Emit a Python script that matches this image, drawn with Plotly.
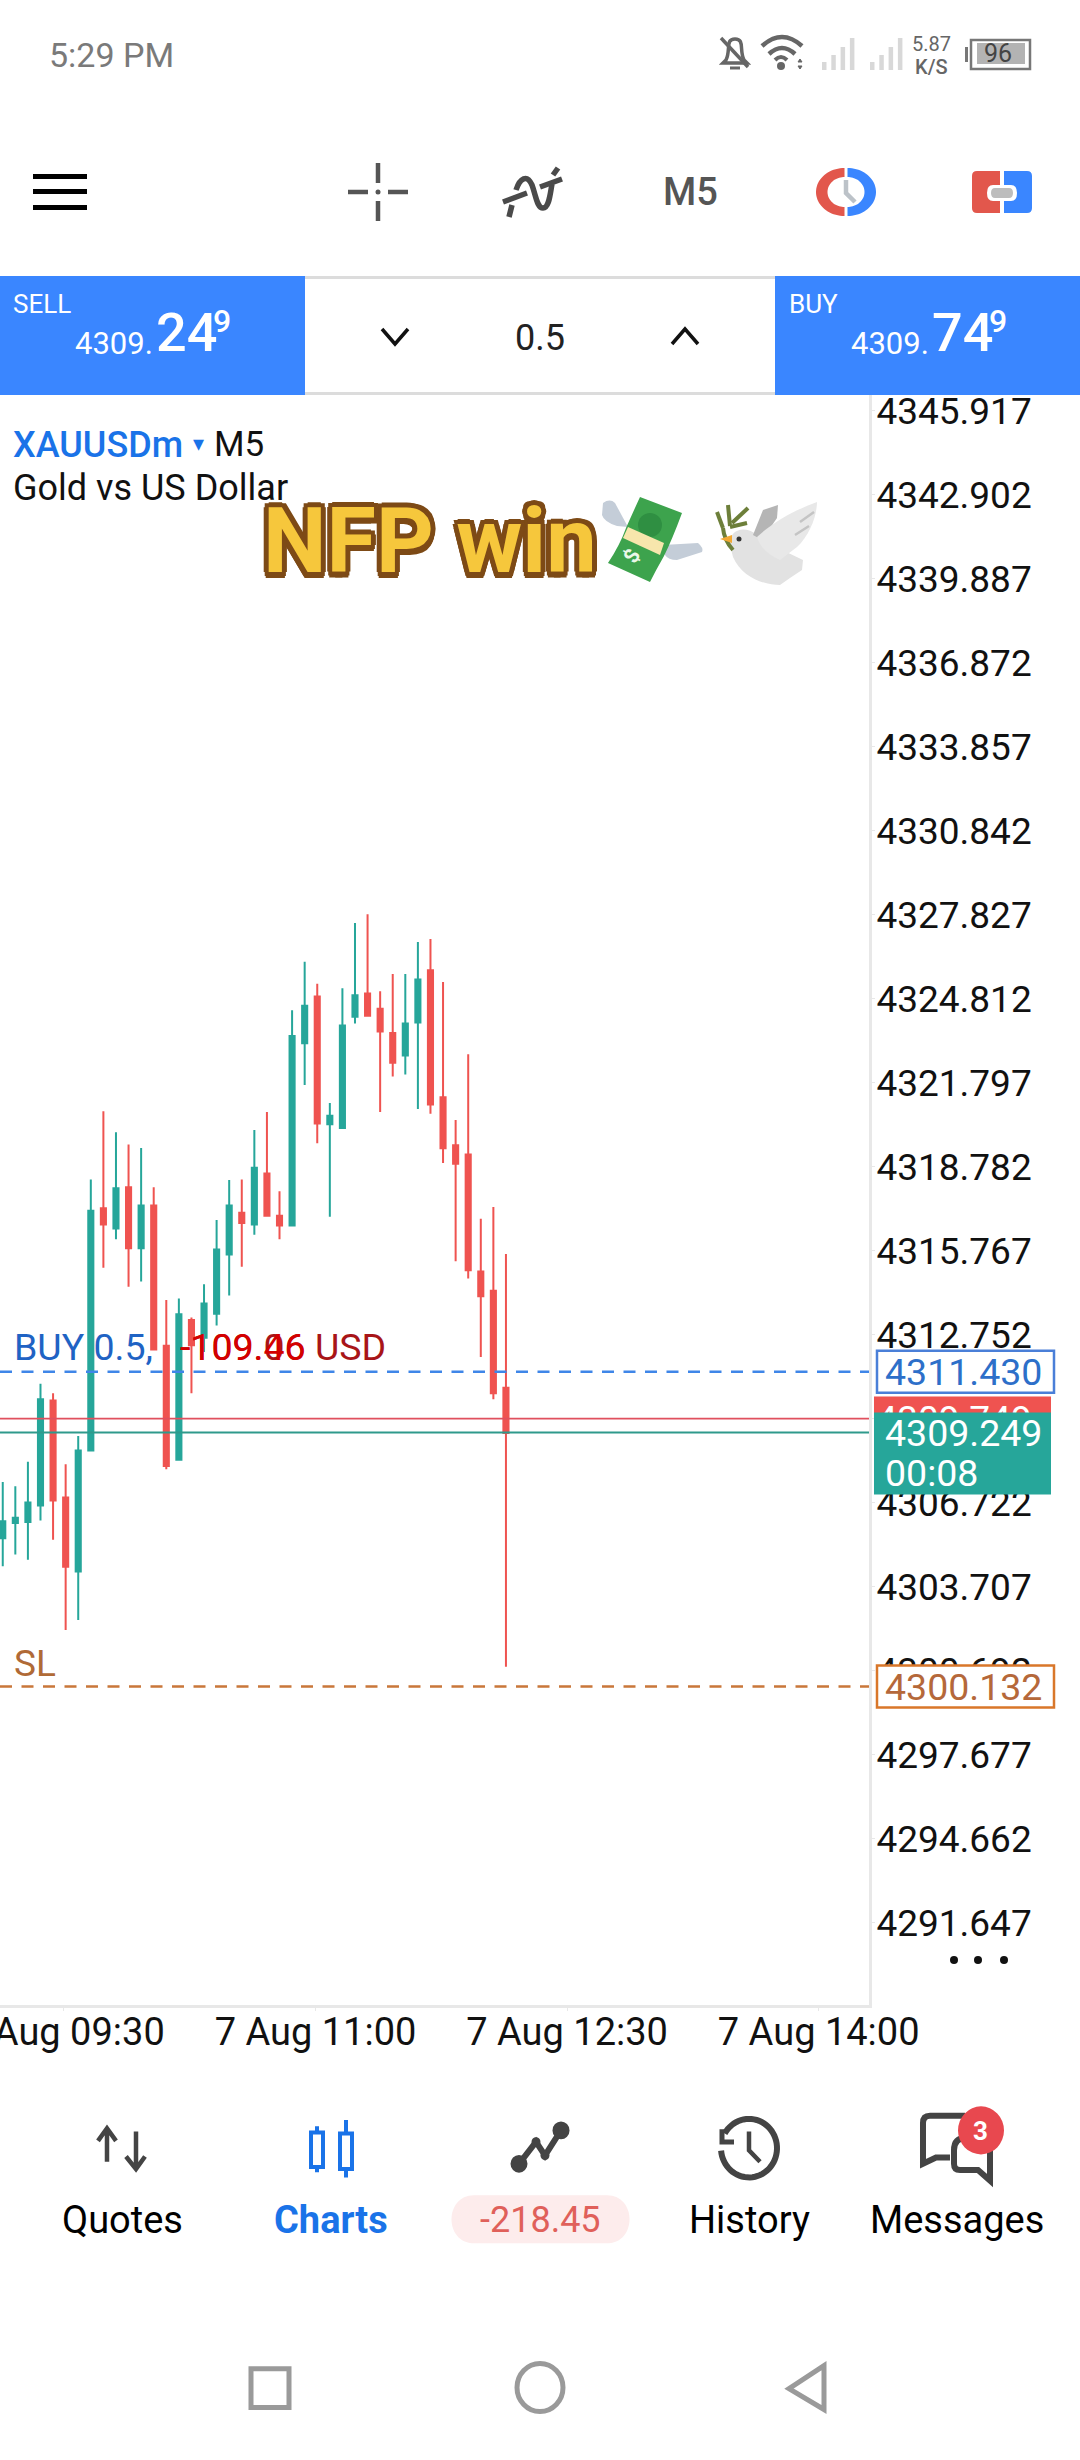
import math
import re
import plotly.graph_objects as go

# ---------- chart data ----------
bar_index = list(range(41))
opens = [4305.45,4306.00,4306.04,4306.63,4310.40,4306.92,4304.26,4308.60,4317.30,4316.57,4318.05,4315.86,4317.40,4312.36,4308.27,4313.29,4312.65,4313.51,4315.64,4317.14,4316.72,4318.55,4317.03,4316.68,4323.22,4324.90,4320.31,4320.18,4324.17,4325.01,4324.46,4323.59,4322.78,4323.97,4325.84,4321.28,4319.56,4319.23,4315.03,4314.34,4310.86]
highs = [4307.47,4307.32,4308.20,4311.00,4310.66,4308.11,4309.12,4318.33,4320.78,4320.03,4319.59,4319.46,4318.05,4314.01,4314.06,4313.38,4314.57,4316.88,4318.31,4318.33,4320.11,4320.75,4317.91,4324.41,4326.15,4325.36,4321.08,4325.20,4327.54,4327.85,4325.09,4325.71,4325.71,4326.86,4326.96,4325.42,4320.47,4322.83,4316.92,4317.34,4315.66]
lows = [4304.45,4304.87,4304.68,4306.09,4305.40,4302.16,4302.52,4308.60,4315.16,4316.19,4314.48,4314.67,4312.23,4307.93,4308.27,4310.66,4312.14,4313.09,4314.17,4315.20,4316.35,4316.99,4316.19,4316.68,4321.72,4319.63,4316.99,4320.14,4323.93,4324.21,4320.75,4322.03,4322.10,4320.86,4320.69,4318.92,4315.40,4314.78,4311.96,4310.44,4300.84]
closes = [4306.06,4306.19,4306.74,4310.44,4306.81,4304.43,4308.60,4317.21,4316.72,4318.02,4315.86,4317.40,4312.23,4308.05,4313.49,4312.38,4313.88,4315.82,4317.40,4316.77,4318.75,4317.03,4316.68,4323.48,4324.57,4320.34,4320.62,4323.86,4324.94,4324.21,4323.64,4322.52,4323.93,4325.51,4321.02,4319.45,4318.90,4315.07,4314.14,4310.66,4309.23]

price_ticks = [4345.917,4342.902,4339.887,4336.872,4333.857,4330.842,4327.827,4324.812,4321.797,4318.782,4315.767,4312.752,4309.749,4306.722,4303.707,4300.692,4297.677,4294.662,4291.647]
price_labels = ["4345.917","4342.902","4339.887","4336.872","4333.857","4330.842","4327.827","4324.812","4321.797","4318.782","4315.767","4312.752","<span style='color:#ffffff'>4309.749</span>","4306.722","4303.707","4300.692","4297.677","4294.662","4291.647"]
time_ticks = [4.86,24.86,44.86,64.86]
time_labels = ["7 Aug 09:30","7 Aug 11:00","7 Aug 12:30","7 Aug 14:00"]

buy_price = 4311.430
ask_price = 4309.749
bid_price = 4309.249
sl_price = 4300.132

# ---------- geometry of the screen ----------
W, H = 1080, 2460
L, R, T, B = 0, 869, 395, 2005
GREEN, RED, BLUE = "#26a69a", "#ef5350", "#3a86ff"
FONT = "Roboto"

def fx(x): return (x - L) / (R - L)
def fy(y):
    if y > 2050:               # bottom navigation band
        y = 1960 + (y - 1960) * 1.0453
    return 1 - (y - T) / (B - T)

def conv(path):
    out, i = [], 0
    for tok in re.findall(r"[MLCQZ]|-?\d+\.?\d*", path):
        if tok in "MLCQZ":
            out.append(tok)
        else:
            out.append(f"{fx(float(tok)):.5f}" if i % 2 == 0 else f"{fy(float(tok)):.5f}")
            i += 1
    return " ".join(out)

shapes, annos = [], []

def rect(x0, y0, x1, y1, fill="rgba(0,0,0,0)", line=None, lw=0, layer="above"):
    shapes.append(dict(type="rect", xref="paper", yref="paper", x0=fx(x0), x1=fx(x1), y0=fy(y0), y1=fy(y1),
                       fillcolor=fill, line=dict(color=line or fill, width=lw), layer=layer))

def circ(cx, cy, r, fill="rgba(0,0,0,0)", line=None, lw=0):
    shapes.append(dict(type="circle", xref="paper", yref="paper", x0=fx(cx-r), x1=fx(cx+r), y0=fy(cy-r), y1=fy(cy+r),
                       fillcolor=fill, line=dict(color=line or fill, width=lw)))

def path(d, fill="rgba(0,0,0,0)", line="rgba(0,0,0,0)", lw=0):
    shapes.append(dict(type="path", xref="paper", yref="paper", path=conv(d),
                       fillcolor=fill, line=dict(color=line, width=lw)))

def arc_pts(cx, cy, rx, ry, a0, a1, n=40):
    pts = []
    for k in range(n + 1):
        a = math.radians(a0 + (a1 - a0) * k / n)
        pts.append((cx + rx * math.cos(a), cy - ry * math.sin(a)))
    return pts

def arc(cx, cy, r, a0, a1, n=40):
    return "M " + " L ".join(f"{x:.2f} {y:.2f}" for x, y in arc_pts(cx, cy, r, r, a0, a1, n))

def ring_part(cx, cy, rx0, ry0, rx1, ry1, a0, a1):
    pts = arc_pts(cx, cy, rx0, ry0, a0, a1) + arc_pts(cx, cy, rx1, ry1, a1, a0)
    return "M " + " L ".join(f"{x:.2f} {y:.2f}" for x, y in pts) + " Z"

def text(s, x, y, size, color="#000000", anchor="left", weight=400, **kw):
    annos.append(dict(text=s, x=fx(x), y=fy(y), xref="paper", yref="paper", xanchor=anchor, yanchor="middle",
                      showarrow=False, borderpad=0, font=dict(family=FONT, size=size, color=color, weight=weight), **kw))

def price_text(s, x, price, size, color):
    annos.append(dict(text=s, x=fx(x), y=price, xref="paper", yref="y", xanchor="left", yanchor="middle",
                      showarrow=False, borderpad=0, font=dict(family=FONT, size=size, color=color)))

def hline(price, color, width, dash="solid"):
    shapes.append(dict(type="line", xref="paper", yref="y", x0=0, x1=1, y0=price, y1=price,
                       line=dict(color=color, width=width, dash=dash)))

def price_box(price, x0, x1, up, down, fill, line=None, lw=0, layer="above"):
    shapes.append(dict(type="rect", xref="paper", yref="y", x0=fx(x0), x1=fx(x1), ysizemode="pixel", yanchor=price,
                       y0=up, y1=-down, fillcolor=fill, line=dict(color=line or fill, width=lw), layer=layer))

# ---------- price lines ----------
hline(buy_price, "#3f86e8", 2.5, "12px,9.5px")
hline(ask_price, "#e0505e", 1.8)
hline(bid_price, "#2f9a8c", 1.8)
hline(sl_price, "#c9773a", 2.5, "12px,9.5px")

# ---------- status bar ----------
STAT = "#666666"
text("5:29 PM", 48, 55, 34, "#7a7a7a")
path("M 726 60 C 731 50 725 39 735 39 C 745 39 739 50 744 60 L 747 63 L 723 63 Z", line=STAT, lw=3.5)
path("M 721 38 L 748 67", line=STAT, lw=3.5)
path("M 730 68 L 740 68", line=STAT, lw=3)
path("M 762 46 Q 782 28 802 46", line=STAT, lw=4.5)
path("M 769 54 Q 782 42 795 54", line=STAT, lw=4.5)
path("M 775 60 Q 781 54 787 60", line=STAT, lw=4)
circ(781, 66, 4, STAT)
path("M 798 62 L 800 59 L 802 62 Z", fill=STAT, line=STAT, lw=1)
path("M 798 66 L 800 69 L 802 66 Z", fill=STAT, line=STAT, lw=1)
for x_start in (824, 872):
    for k, top in enumerate((62, 55, 47, 38)):
        rect(x_start - 2 + k * 9.3, top, x_start + 2.5 + k * 9.3, 70, "#d8d8d8")
text("5.87", 932, 44, 20, STAT, "center")
text("K/S", 932, 67, 20, STAT, "center", 500)
rect(971, 40, 1030, 69, "#ffffff", "#777777", 2.5)
rect(977, 43, 1025, 64, "#b3b3b3")
rect(965, 47, 968, 62, "#777777")
text("96", 998, 54, 25, "#444444", "center")

# ---------- toolbar ----------
for y0 in (174, 189, 205):
    rect(33, y0, 87, y0 + 5, "#000000")
for d in ("M 378 163 L 378 183", "M 378 201 L 378 221", "M 348 192 L 368 192", "M 388 192 L 408 192"):
    path(d, line="#555555", lw=4.5)
circ(378, 192, 2.5, "#555555")
for d in ("M 509 217 L 512 205",
          "M 516 190 C 520 178 527 174 532 185 C 536 196 537 208 543 208 C 549 208 550 195 552 184",
          "M 553 175 L 558 168", "M 503 202 L 527 193", "M 540 187 L 562 179"):
    path(d, line="#4a4a4a", lw=5.5)
text("M5", 690, 192, 38, "#555555", "center", 500)
path(ring_part(844.5, 192, 28.5, 24, 17, 15, 90, 270), fill="#e2574c")
path(ring_part(847.5, 192, 28.5, 24, 17, 15, 90, -90), fill=BLUE)
path("M 846 180 L 846 193 L 855 202", line="#bcc2c8", lw=4.5)
path("M 977 171 L 1000 171 L 1000 213 L 977 213 Q 972 213 972 208 L 972 176 Q 972 171 977 171 Z", fill="#e2574c")
path("M 1004 171 L 1027 171 Q 1032 171 1032 176 L 1032 208 Q 1032 213 1027 213 L 1004 213 Z", fill=BLUE)
path("M 993 185 L 1011 185 Q 1017 185 1017 193 Q 1017 201 1011 201 L 993 201 Q 987 201 987 193 Q 987 185 993 185 Z", fill="#ffffff")
path("M 995 188 L 1009 188 Q 1013 188 1013 193 Q 1013 198 1009 198 L 995 198 Q 991 198 991 193 Q 991 188 995 188 Z", fill="#bdbdbd")

# ---------- sell / buy strip ----------
rect(0, 276, 305, 395, BLUE)
rect(775, 276, 1080, 395, BLUE)
rect(305, 276, 775, 279, "#dcdcdc")
rect(305, 392, 775, 395, "#dcdcdc")
text("SELL", 12, 304, 26, "#ffffff")
text("BUY", 788, 304, 26, "#ffffff")
for off, big in ((0, "24"), (776, "74")):
    text("4309.", 74 + off, 343, 31, "#ffffff")
    text(big, 155 + off, 333, 54, "#ffffff", weight=500)
    text("9", 212 + off, 321, 32, "#ffffff", weight=500)
path("M 382 329 L 395 344 L 408 329", line="#111111", lw=3.5)
path("M 672 344 L 685 329 L 698 344", line="#111111", lw=3.5)
text("0.5", 540, 338, 36, "#222222", "center")

# ---------- symbol title ----------
text("XAUUSDm", 12, 445, 36, "#1a73e8", weight=500)
text("▾", 192, 443, 22, "#1a73e8")
text("M5", 213, 445, 35, "#111111")
text("Gold vs US Dollar", 12, 488, 36, "#111111")

# ---------- NFP win sticker ----------
stroke = "#7d4a16"
offs = [(5,0),(-5,0),(0,5),(0,-5),(4,4),(-4,4),(4,-4),(-4,-4),(3,6),(-3,6)]
annos.append(dict(text="NFP win", x=fx(430), y=fy(541), xref="paper", yref="paper", xanchor="center", yanchor="middle",
                  showarrow=False, font=dict(family=FONT, size=90, color="#f6c73c", weight=700,
                  shadow=", ".join(f"{a}px {b}px 0 {stroke}" for a, b in offs))))
wing = "#c4cdd8"
path("M 603 503 Q 610 498 615 503 L 628 527 L 617 526 Q 604 522 602 515 Z", fill=wing)
path("M 663 545 L 698 543 Q 704 548 702 552 L 677 560 Q 668 560 665 555 Z", fill=wing)
path("M 640 497 L 682 513 Q 672 540 664 556 Q 656 570 650 582 L 608 563 Q 620 545 626 528 Q 634 510 640 497 Z", fill="#3da34d")
circ(650, 525, 12, "#2f8f42")
path("M 628 527 L 664 543 L 660 555 L 623 538 Z", fill="#f7e6ac")
text("$", 632, 556, 21, "#eaf7e8", "center", 700, textangle=-60)
path("M 730 545 C 729 529 745 525 757 535 L 778 548 L 803 560 L 802 570 L 790 578 L 780 585 C 765 585 742 578 733 557 Z", fill="#e2e2e2")
path("M 753 535 L 763 510 L 778 505 L 777 518 L 762 540 Z", fill="#b5b5b5")
path("M 757 537 C 775 520 800 508 817 502 C 817 515 810 535 797 547 L 780 560 C 770 556 760 548 757 537 Z", fill="#e8e8e8")
path("M 800 522 L 814 512 M 795 535 L 809 526", line="#c4c4c4", lw=2.5)
for d in ("M 733 550 Q 724 540 723 528", "M 717 512 L 723 528", "M 728 505 L 730 526", "M 748 508 L 732 523", "M 747 523 L 730 527"):
    path(d, line="#6d7f3a", lw=4)
path("M 720 539 L 732 535 L 732 543 Z", fill="#f2a935")
circ(739, 539, 2.5, "#333333")

# ---------- labels on the chart ----------
text("BUY 0.5,", 13, 1347, 37.5, "#1f63c4")
text("-109.06 USD", 179, 1347, 37.5, "#a81518")
text("-109.46", 179, 1347, 37.5, "#d40000")
text("SL", 13, 1663, 37, "#b06a36")

# ---------- price boxes on the axis ----------
price_box(ask_price, 874, 1051, 22, 10, RED, layer="below")
price_box(bid_price, 874, 1051, 20, 62, GREEN)
price_box(buy_price, 877, 1054, 21, 21, "#ffffff", "#4a7fd8", 2.5)
price_box(sl_price, 877, 1054, 21, 21, "#ffffff", "#d9772a", 2.5)
price_text("4311.430", 884, buy_price, 37.5, "#2d6fc9")
price_text("4309.249", 884, bid_price, 37.5, "#ffffff")
text("00:08", 884, 1473, 37.5, "#ffffff")
price_text("4300.132", 884, sl_price, 37.5, "#b5683a")
for cx in (954, 978, 1004):
    circ(cx, 1960, 4, "#111111")

# ---------- bottom navigation ----------
DARK = "#444444"
path("M 107 2153 L 107 2122 M 98 2133 L 107 2121 L 116 2133", line=DARK, lw=4.5)
path("M 136 2124 L 136 2158 M 126 2148 L 136 2160 L 145 2148", line=DARK, lw=4.5)
NAV = "#1a73e8"
path("M 317 2119 L 317 2163 M 346 2113 L 346 2168", line=NAV, lw=4)
rect(311, 2125, 323, 2158, "#ffffff", NAV, 4)
rect(340, 2126, 352, 2160, "#ffffff", NAV, 4)
path("M 519 2155 L 536 2134 L 545 2147 L 561 2123", line=DARK, lw=6)
circ(519, 2155, 8.5, DARK)
circ(536, 2134, 4.5, DARK)
circ(545, 2147, 4.5, DARK)
circ(561, 2123, 8.5, DARK)
path(arc(749, 2140, 28, 150, -175, 60), line=DARK, lw=6)
path("M 722 2122 L 722 2134 L 734 2134", line=DARK, lw=5)
path("M 749 2124 L 749 2142 L 760 2153", line=DARK, lw=4.5)
path("M 965 2109 L 930 2109 Q 923 2109 923 2116 L 923 2155 L 936 2149 L 950 2149", line=DARK, lw=6)
path("M 966 2130 Q 954 2130 954 2142 L 954 2155 Q 954 2161 960 2161 L 978 2161 L 990 2171 L 990 2140", line=DARK, lw=6)
circ(981, 2123, 23, "#e8484f")
text("3", 981, 2124, 26, "#ffffff", "center", 700)
path("M 474 2185 L 607 2185 C 637 2185 637 2231 607 2231 L 474 2231 C 444 2231 444 2185 474 2185 Z", fill="#fdecec")
text("Quotes", 122, 2209, 38, "#000000", "center")
text("Charts", 331, 2209, 38, NAV, "center", 700)
text("-218.45", 540, 2209, 36, "#e0605a", "center")
text("History", 749, 2209, 38, "#000000", "center")
text("Messages", 957, 2209, 38, "#000000", "center")
rect(251, 2351, 289, 2388, "#ffffff", "#9a9a9a", 5)
circ(540, 2369, 23, "#ffffff", "#9a9a9a", 5)
path("M 824 2348 L 789 2370 L 824 2390 Z", line="#9a9a9a", lw=5)

# ---------- figure ----------
fig = go.Figure(go.Candlestick(
    x=bar_index, open=opens, high=highs, low=lows, close=closes, whiskerwidth=0,
    increasing=dict(line=dict(color=GREEN, width=2), fillcolor=GREEN),
    decreasing=dict(line=dict(color=RED, width=2), fillcolor=RED),
))
fig.update_layout(
    width=W, height=H, showlegend=False, paper_bgcolor="#ffffff", plot_bgcolor="#ffffff",
    margin=dict(l=L, r=W - R, t=T, b=H - B, pad=0, autoexpand=False), boxgap=0.42,
    font=dict(family=FONT, color="#000000"), shapes=shapes, annotations=annos,
    xaxis=dict(range=[-0.219, 68.86], rangeslider=dict(visible=False), tickmode="array", tickvals=time_ticks,
               ticktext=time_labels, tickfont=dict(size=38, family=FONT, color="#111111"), showgrid=False, zeroline=False,
               showline=True, linecolor="#e8e8e8", linewidth=3, ticks="outside", ticklen=3, tickcolor="#e8e8e8",
               ticklabeloverflow="allow", ticklabelstandoff=-12, automargin=False),
    yaxis=dict(range=[4288.70, 4346.49], side="right", tickmode="array", tickvals=price_ticks, ticktext=price_labels,
               tickfont=dict(size=37, family=FONT, color="#111111"), showgrid=False, zeroline=False,
               showline=True, linecolor="#e8e8e8", linewidth=3, ticks="outside", ticklen=3, tickcolor="#e8e8e8",
               ticklabeloverflow="allow", ticklabelstandoff=-6, automargin=False),
)
fig.write_html("out.html", config=dict(displayModeBar=False),
               post_script="document.body.style.margin='0';document.body.style.overflow='hidden';")
